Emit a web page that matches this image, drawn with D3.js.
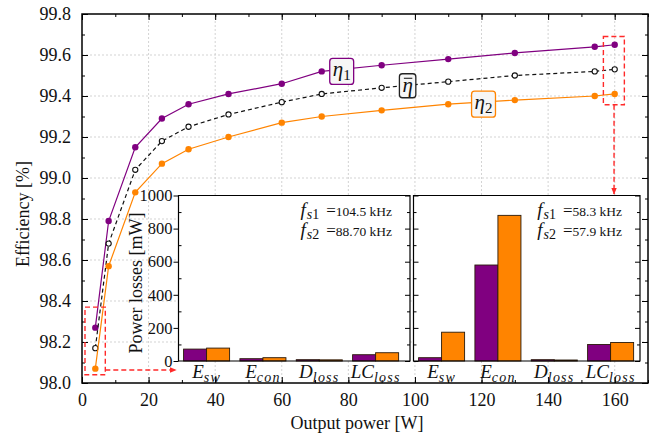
<!DOCTYPE html>
<html>
<head>
<meta charset="utf-8">
<script src="https://d3js.org/d3.v7.min.js"></script>
<style>
  body { margin: 0; background: #fff; }
  text { font-family: "Liberation Serif", "Times New Roman", serif; fill: #111; }
</style>
</head>
<body>
<script>
// efficiency curves [%] vs output power [W]
const power   = [4, 8, 16, 24, 32, 44, 60, 72, 90, 110, 130, 154, 160];
const eta1    = [98.27, 98.79, 99.15, 99.29, 99.36, 99.41, 99.46, 99.52, 99.55, 99.58, 99.61, 99.64, 99.65];
const etaMean = [98.17, 98.68, 99.04, 99.18, 99.25, 99.31, 99.37, 99.41, 99.44, 99.47, 99.50, 99.52, 99.53];
const eta2    = [98.07, 98.57, 98.93, 99.07, 99.14, 99.20, 99.27, 99.30, 99.33, 99.36, 99.38, 99.40, 99.41];

// loss breakdown [mW] for the two insets (low power / high power)
const lossCats  = ["E_sw", "E_con", "D_loss", "LC_loss"];
const lossLow1  = [72, 14, 8, 38];
const lossLow2  = [78, 20, 7, 50];
const lossHigh1 = [20, 580, 8, 100];
const lossHigh2 = [174, 880, 6, 112];
const freqLow   = ["104.5 kHz", "88.70 kHz"];
const freqHigh  = ["58.3 kHz", "57.9 kHz"];

const xTicks = [0, 20, 40, 60, 80, 100, 120, 140, 160];
const yTicks = [98.0, 98.2, 98.4, 98.6, 98.8, 99.0, 99.2, 99.4, 99.6, 99.8];
const lossTicks = [0, 200, 400, 600, 800, 1000];

const purple = "#800080", orange = "#ff8400", red = "#ff2a2a";

const width = 659, height = 435;
const svg = d3.select("body").append("svg")
    .attr("width", width)
    .attr("height", height);

svg.append("defs").append("marker")
    .attr("id", "arr")
    .attr("viewBox", "0 0 10 10")
    .attr("refX", 9).attr("refY", 5)
    .attr("markerWidth", 5).attr("markerHeight", 5)
    .attr("orient", "auto")
  .append("path")
    .attr("d", "M0,1 L10,5 L0,9 Z")
    .attr("fill", red);

let x = d3.scaleLinear().domain([0, 170]).range([82, 648]);
let y = d3.scaleLinear().domain([98.0, 99.8]).range([383, 14]);

// grid
let grid = svg.append("g").attr("stroke", "#c8c8c8").attr("stroke-dasharray", "2,2").attr("stroke-width", 0.8);
grid.selectAll(".gx").data(xTicks.slice(1)).join("line")
    .attr("x1", d => x(d)).attr("x2", d => x(d))
    .attr("y1", y.range()[0]).attr("y2", y.range()[1]);
grid.selectAll(".gy").data(yTicks.slice(1, -1)).join("line")
    .attr("x1", x.range()[0]).attr("x2", x.range()[1])
    .attr("y1", d => y(d)).attr("y2", d => y(d));

// axes (ticks inward on all four sides)
function minorVals(sc, step) {
    let [a, b] = sc.domain();
    return d3.range(Math.round(a / step), Math.round(b / step) + 1).map(i => +(i * step).toFixed(3));
}
function tickStyle(g) {
    g.select(".domain").remove();
    g.selectAll("line").attr("stroke", "#000").attr("stroke-width", 1);
    g.selectAll("text").attr("font-size", "18px").attr("fill", "#111");
}
svg.append("g").attr("transform", `translate(${x(0)},0)`)
    .call(d3.axisLeft(y).tickValues(yTicks).tickFormat(d3.format(".1f")).tickSizeInner(-6).tickSizeOuter(0).tickPadding(11))
    .call(tickStyle);
svg.append("g").attr("transform", `translate(${x(0)},0)`)
    .call(d3.axisLeft(y).tickValues(minorVals(y, 0.1)).tickFormat("").tickSizeInner(-3).tickSizeOuter(0))
    .call(tickStyle);
svg.append("g").attr("transform", `translate(${x.range()[1]},0)`)
    .call(d3.axisRight(y).tickValues(yTicks).tickFormat("").tickSizeInner(-6).tickSizeOuter(0))
    .call(tickStyle);
svg.append("g").attr("transform", `translate(${x.range()[1]},0)`)
    .call(d3.axisRight(y).tickValues(minorVals(y, 0.1)).tickFormat("").tickSizeInner(-3).tickSizeOuter(0))
    .call(tickStyle);
svg.append("g").attr("transform", `translate(0,${y(98)})`)
    .call(d3.axisBottom(x).tickValues(xTicks).tickSizeInner(-6).tickSizeOuter(0).tickPadding(10))
    .call(tickStyle);
svg.append("g").attr("transform", `translate(0,${y(98)})`)
    .call(d3.axisBottom(x).tickValues(minorVals(x, 10)).tickFormat("").tickSizeInner(-3).tickSizeOuter(0))
    .call(tickStyle);
svg.append("g").attr("transform", `translate(0,${y(99.8)})`)
    .call(d3.axisTop(x).tickValues(xTicks).tickFormat("").tickSizeInner(-6).tickSizeOuter(0))
    .call(tickStyle);
svg.append("g").attr("transform", `translate(0,${y(99.8)})`)
    .call(d3.axisTop(x).tickValues(minorVals(x, 10)).tickFormat("").tickSizeInner(-3).tickSizeOuter(0))
    .call(tickStyle);

svg.append("text").attr("x", 357).attr("y", 429)
    .attr("text-anchor", "middle").attr("font-size", "18px")
    .text("Output power [W]");
svg.append("text").attr("transform", "translate(29,214) rotate(-90)")
    .attr("text-anchor", "middle").attr("font-size", "18px")
    .text("Efficiency [%]");

// curves
let series = [
    { vals: eta1, color: purple, dash: null, open: false },
    { vals: etaMean, color: "#111", dash: "4,3", open: true },
    { vals: eta2, color: orange, dash: null, open: false }
];
let line = d3.line().x(d => x(d[0])).y(d => y(d[1]));
series.forEach(s => {
    let pts = power.map((p, i) => [p, s.vals[i]]);
    svg.append("path").datum(pts)
        .attr("d", line)
        .attr("fill", "none")
        .attr("stroke", s.color)
        .attr("stroke-width", 1.2)
        .attr("stroke-dasharray", s.dash);
    svg.append("g").selectAll("circle").data(pts).join("circle")
        .attr("cx", d => x(d[0])).attr("cy", d => y(d[1]))
        .attr("r", s.open ? 2.6 : 3.2)
        .attr("fill", s.open ? "#fff" : s.color)
        .attr("stroke", s.color)
        .attr("stroke-width", s.open ? 1.1 : 0);
});

// labelled boxes on the curves
function curveLabel(px, py, sub, color, bar) {
    let g = svg.append("g");
    let t = g.append("text").attr("x", x(px)).attr("y", y(py) + 6)
        .attr("text-anchor", "middle").attr("font-size", "21px");
    t.append("tspan").attr("font-style", "italic").text("η");
    if (sub) t.append("tspan").attr("font-size", "15px").attr("dy", 4).text(sub);
    let b = t.node().getBBox();
    g.insert("rect", "text")
        .attr("x", b.x - 3).attr("y", b.y + 1)
        .attr("width", b.width + 6).attr("height", b.height)
        .attr("rx", 3)
        .attr("fill", "#f6f6f6").attr("stroke", color).attr("stroke-width", 1.3);
    if (bar) {
        g.append("line")
            .attr("x1", b.x + 1.5).attr("x2", b.x + b.width - 0.5)
            .attr("y1", y(py) - 7.5).attr("y2", y(py) - 7.5)
            .attr("stroke", "#111").attr("stroke-width", 1);
    }
}
curveLabel(78, 99.525, "1", purple, false);
curveLabel(97.8, 99.45, null, "#222", true);
curveLabel(120.6, 99.365, "2", orange, false);

// red dashed zoom boxes + arrows
let redG = svg.append("g").attr("fill", "none").attr("stroke", red)
    .attr("stroke-width", 1.4).attr("stroke-dasharray", "5,3");
redG.append("rect")
    .attr("x", x(0.9)).attr("y", y(98.37))
    .attr("width", x(7) - x(0.9)).attr("height", y(98.04) - y(98.37));
redG.append("rect")
    .attr("x", x(156.6)).attr("y", y(99.69))
    .attr("width", x(162.9) - x(156.6)).attr("height", y(99.357) - y(99.69));

// insets
let ly = d3.scaleLinear().domain([0, 1000]).range([361, 195.5]);

function subLabel(sel, name, big, small) {
    let parts = name.split("_");
    sel.append("tspan").attr("font-style", "italic").attr("font-size", big + "px").text(parts[0]);
    sel.append("tspan").attr("font-style", "italic").attr("font-size", small + "px")
        .attr("dy", 4).attr("letter-spacing", "1.2px").text(parts[1]);
}

function drawInset(left, right, v1, v2, freqs, showAxisLabels) {
    let top = ly(1000), base = ly(0);
    let g = svg.append("g");
    g.append("rect").attr("x", left).attr("y", top)
        .attr("width", right - left).attr("height", base - top)
        .attr("fill", "#fff");

    let xb = d3.scaleBand().domain(lossCats)
        .range([left, left + 225.2]).paddingInner(0.183).paddingOuter(0.09);
    let xs = d3.scaleBand().domain([0, 1]).range([0, xb.bandwidth()]);

    lossCats.forEach((c, i) => {
        [v1[i], v2[i]].forEach((v, j) => {
            g.append("rect")
                .attr("x", xb(c) + xs(j)).attr("y", ly(v))
                .attr("width", xs.bandwidth()).attr("height", base - ly(v))
                .attr("fill", j === 0 ? purple : orange)
                .attr("stroke", "#2a1a0a").attr("stroke-width", 0.9);
        });
        let t = g.append("text").attr("x", xb(c) + xb.bandwidth() / 2).attr("y", 378)
            .attr("text-anchor", "middle");
        subLabel(t, c, 19, 14);
    });

    // frame
    g.append("path")
        .attr("d", `M${left},${base}V${top}H${right}V${base}Z`)
        .attr("fill", "none").attr("stroke", "#000").attr("stroke-width", 1.2);

    let ax = g.append("g").attr("transform", `translate(${left},0)`);
    if (showAxisLabels) {
        ax.call(d3.axisLeft(ly).tickValues(lossTicks).tickFormat(d3.format("d")).tickSizeInner(5).tickSizeOuter(0).tickPadding(1))
          .call(tickStyle);
        ax.selectAll("text").attr("font-size", "16.5px");
    } else {
        ax.call(d3.axisLeft(ly).tickValues(lossTicks).tickFormat("").tickSizeInner(-5).tickSizeOuter(0))
          .call(tickStyle);
    }
    g.append("g").attr("transform", `translate(${left},0)`)
        .call(d3.axisLeft(ly).tickValues(d3.range(100, 1000, 200)).tickFormat("").tickSizeInner(-3).tickSizeOuter(0))
        .call(tickStyle);
    g.append("g").attr("transform", `translate(${right},0)`)
        .call(d3.axisRight(ly).tickValues(lossTicks).tickFormat("").tickSizeInner(-5).tickSizeOuter(0))
        .call(tickStyle);
    g.append("g").attr("transform", `translate(${right},0)`)
        .call(d3.axisRight(ly).tickValues(d3.range(100, 1000, 200)).tickFormat("").tickSizeInner(-3).tickSizeOuter(0))
        .call(tickStyle);

    freqs.forEach((f, k) => {
        let t = g.append("text").attr("x", right - 18).attr("y", top + 20 + k * 20)
            .attr("text-anchor", "end");
        t.append("tspan").attr("font-style", "italic").attr("font-size", "19px").text("f");
        t.append("tspan").attr("font-style", "italic").attr("font-size", "14px").attr("dy", 3).attr("dx", 1).text("s");
        t.append("tspan").attr("font-size", "14px").text(String(k + 1));
        t.append("tspan").attr("font-size", "17px").attr("dy", -3).attr("dx", 7).text("=");
        t.append("tspan").attr("font-size", "13.5px").text(f);
    });
}

drawInset(178.5, 410, lossLow1, lossLow2, freqLow, true);
drawInset(413.5, 640, lossHigh1, lossHigh2, freqHigh, false);

svg.append("text").attr("transform", "translate(142,283) rotate(-90)")
    .attr("text-anchor", "middle").attr("font-size", "18px")
    .text("Power losses [mW]");

// arrows from zoom boxes to insets
redG.append("line")
    .attr("x1", x(7)).attr("x2", 176)
    .attr("y1", 370).attr("y2", 370)
    .attr("marker-end", "url(#arr)");
redG.append("line")
    .attr("x1", x(159.8)).attr("x2", x(159.8))
    .attr("y1", y(99.357)).attr("y2", 194)
    .attr("marker-end", "url(#arr)");

// main frame
svg.append("rect")
    .attr("x", x(0)).attr("y", y(99.8))
    .attr("width", x(170) - x(0)).attr("height", y(98) - y(99.8))
    .attr("fill", "none").attr("stroke", "#000").attr("stroke-width", 1.5);
</script>
</body>
</html>
